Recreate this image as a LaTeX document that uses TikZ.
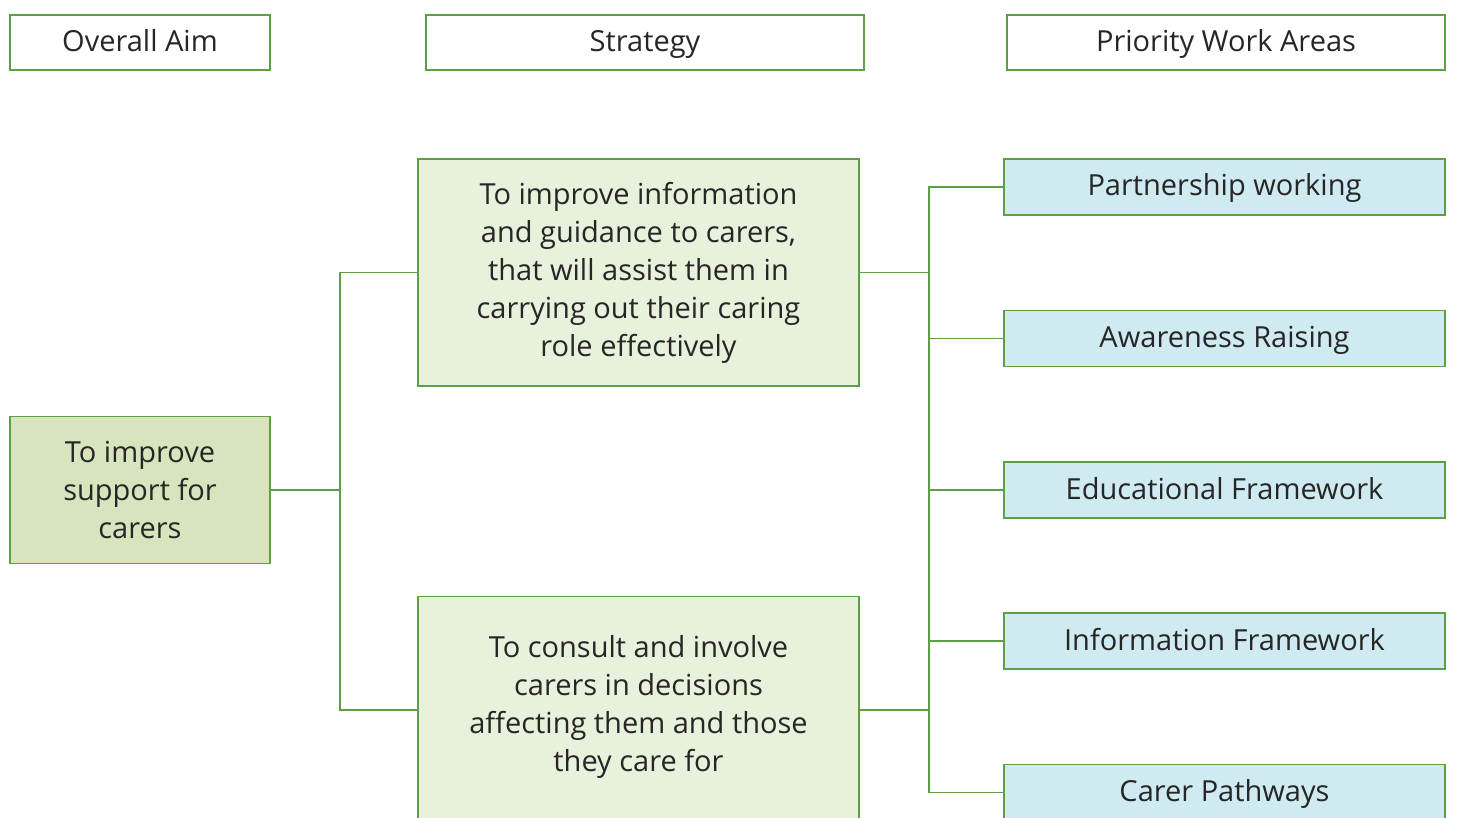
\documentclass[tikz,border=0pt]{standalone}
\usepackage{fontspec}
\setmainfont{Open Sans}
\definecolor{edge}{HTML}{5E9E44}
\definecolor{aimfill}{HTML}{D7E4BD}
\definecolor{stratfill}{HTML}{E8F1DB}
\definecolor{areafill}{HTML}{CFEAF0}
\definecolor{txt}{HTML}{262626}
\tikzset{
  base/.style={draw=edge, line width=1.4pt, text=txt, align=center, inner sep=0pt,
    font=\fontsize{29}{38}\selectfont},
  oneline/.style={text height=22pt, text depth=4pt},
  header/.style={base, oneline, fill=white, minimum height=55pt},
  aimbox/.style={base, fill=aimfill, minimum width=260pt, minimum height=147pt},
  stratbox/.style={base, fill=stratfill, minimum width=441pt, minimum height=227pt},
  areabox/.style={base, oneline, fill=areafill, minimum width=441pt, minimum height=56pt},
  link/.style={draw=edge, line width=1.4pt}
}
\begin{document}
\begin{tikzpicture}[x=1pt, y=-1pt]
\useasboundingbox (0,0) rectangle (1457,818);
\fill[white] (0,0) rectangle (1457,818);
\clip (0,0) rectangle (1457,818);
% headers
\node[header, minimum width=260pt] (h1) at (140,42.5) {Overall Aim};
\node[header, minimum width=438pt] (h2) at (645,42.5) {Strategy};
\node[header, minimum width=438pt] (h3) at (1226,42.5) {Priority Work Areas};
% trunk coordinates
\coordinate (tl) at (340,490);
\coordinate (tr) at (929,490);
% boxes
\node[aimbox] (aim) at (140,490) {To improve\\support for\\carers};
\node[stratbox] (s1) at (638.5,272.5) {To improve information\\and guidance to carers,\\that will assist them in\\carrying out their caring\\role effectively};
\node[stratbox] (s2) at (638.5,710) {};
\node[text=txt, align=center, font=\fontsize{29}{38}\selectfont] (s2t) at (638.5,707) {To consult and involve\\carers in decisions\\affecting them and those\\they care for};
\node[areabox] (p1) at (1224.5,187) {Partnership working};
\node[areabox] (p2) at (1224.5,338.5) {Awareness Raising};
\node[areabox] (p3) at (1224.5,490) {Educational Framework};
\node[areabox] (p4) at (1224.5,641) {Information Framework};
\node[areabox] (p5) at (1224.5,792.5) {Carer Pathways};
% left tree
\draw[link] (aim.east) -- (tl);
\draw[link] (s1.west) -| (tl) |- (s2.west);
% right tree
\draw[link] (p1.west) -| (tr) |- (p5.west);
\draw[link] (s1.east) -- (s1.east -| tr);
\draw[link] (s2.east) -- (s2.east -| tr);
\draw[link] (p2.west) -- (p2.west -| tr);
\draw[link] (p3.west) -- (p3.west -| tr);
\draw[link] (p4.west) -- (p4.west -| tr);
\end{tikzpicture}
\end{document}
